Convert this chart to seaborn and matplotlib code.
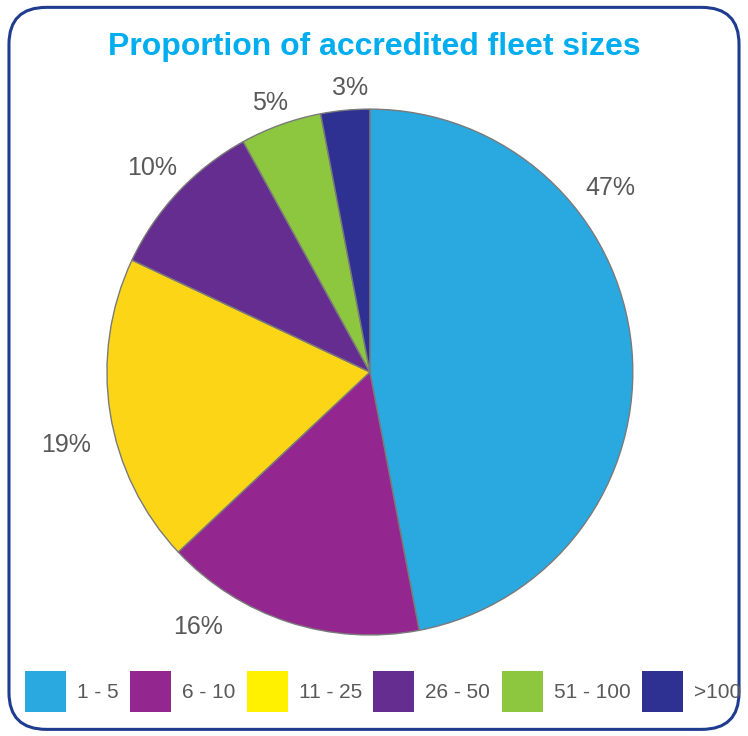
import numpy as np
import seaborn as sns
import matplotlib.pyplot as plt
from matplotlib.patches import FancyBboxPatch, Patch

# Dados
categorias = ["1 - 5", "6 - 10", "11 - 25", "26 - 50", "51 - 100", ">100"]
percentuais = [47, 16, 19, 10, 5, 3]
rotulos = ["47%", "16%", "19%", "10%", "5%", "3%"]
cores = ["#29A9E0", "#93278F", "#FCD616", "#662D91", "#8DC63F", "#2E3192"]
cores_legenda = ["#29A9E0", "#93278F", "#FFF100", "#662D91", "#8DC63F", "#2E3192"]

# posição dos rótulos (ângulo em graus, raio relativo), como no Excel
pos_rotulos = [(37.4, 1.15), (236, 1.17), (193.5, 1.19), (136.9, 1.135), (110.4, 1.09), (94, 1.083)]

sns.set_theme(style="white")
plt.rcParams['font.family'] = ['Liberation Sans', 'DejaVu Sans']

fig = plt.figure(figsize=(7.48, 7.36), dpi=100)

# moldura arredondada
moldura = FancyBboxPatch((0.012, 0.009), 0.976, 0.981,
                         boxstyle="round,pad=0,rounding_size=0.05",
                         transform=fig.transFigure, fill=False,
                         edgecolor="#1F3C8F", linewidth=2.2)
fig.patches.append(moldura)

ax = fig.add_axes([0.143, 0.137, 0.703, 0.715])
paleta = sns.color_palette(cores)
wedges, textos = ax.pie(percentuais, labels=rotulos, colors=paleta,
                        startangle=90, counterclock=False,
                        wedgeprops=dict(edgecolor="#7a7a7a", linewidth=1),
                        textprops=dict(color="#595959", fontsize=18))
for t, (ang, r) in zip(textos, pos_rotulos):
    a = np.deg2rad(ang)
    t.set_position((r * np.cos(a), r * np.sin(a)))
    t.set_ha("center")
    t.set_va("center")

ax.set_xlim(-1, 1)
ax.set_ylim(-1, 1)
ax.set_aspect("equal")
ax.axis("off")

fig.text(0.5, 0.936, "Proportion of accredited fleet sizes", ha="center", va="center",
         color="#00AEEF", fontsize=23, fontweight="bold")

handles = [Patch(facecolor=c, edgecolor="none") for c in sns.color_palette(cores_legenda)]
fig.legend(handles, categorias, loc="center", bbox_to_anchor=(0.512, 0.0605), ncol=6,
           frameon=False, fontsize=15, handlelength=1.97, handleheight=2.6,
           handletextpad=0.53, columnspacing=0.55, labelcolor="#595959")

plt.savefig("out.png", dpi=100)
